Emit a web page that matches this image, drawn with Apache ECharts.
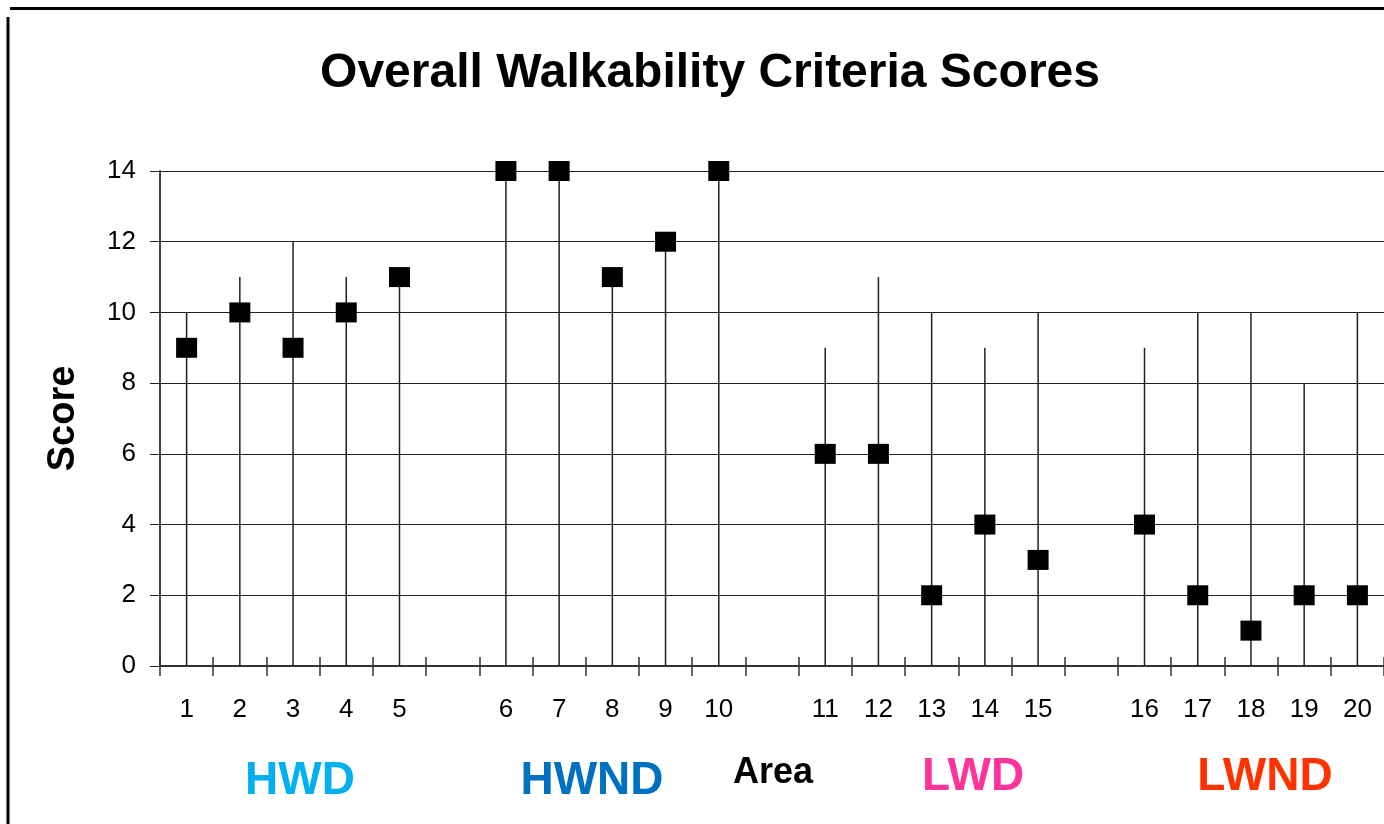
<!DOCTYPE html>
<html>
<head>
<meta charset="utf-8">
<script src="https://cdn.jsdelivr.net/npm/echarts@6/dist/echarts.min.js"></script>
<style>
    html, body { margin: 0; padding: 0; background: #fff; }
    #chart { width: 1384px; height: 824px; }
</style>
</head>
<body>
<div id="chart"></div>
<script>
const varFont = 'Liberation Sans';

// areas 1..20, with an empty slot between each group of five
const categories = ['1', '2', '3', '4', '5', '', '6', '7', '8', '9', '10', '', '11', '12', '13', '14', '15', '', '16', '17', '18', '19', '20'];
const scores = [9, 10, 9, 10, 11, '-', 14, 14, 11, 12, 14, '-', 6, 6, 2, 4, 3, '-', 4, 2, 1, 2, 2];
const highs = [10, 11, 12, 11, 11, '-', 14, 14, 11, 12, 14, '-', 9, 11, 10, 9, 10, '-', 9, 10, 10, 8, 10];
const yTicks = [0, 2, 4, 6, 8, 10, 12, 14];

const groupNames = ['HWD', 'HWND', 'LWD', 'LWND'];
const groupColors = ['#00B0F0', '#0070C0', '#FF3399', '#FF3300'];

//-----------------------------------------------------------------------------
var myChart = echarts.init(document.getElementById('chart'));

// labels under the axis (placed by hand like in the original sheet)
let groupX = [300, 592, 973, 1265];
let groupY = [781, 781, 777, 777];
let labelItems = [];
groupNames.forEach((name, i) => {
    labelItems.push({
        type: 'text',
        x: groupX[i],
        y: groupY[i],
        style: {
            text: name,
            fill: groupColors[i],
            font: 'bold 46px ' + varFont,
            textAlign: 'center',
            textVerticalAlign: 'middle'
        }
    });
});

var option = {
    animation: false,
    textStyle: {
        fontFamily: varFont,
    },
    title: {
        text: 'Overall Walkability Criteria Scores',
        left: 705,
        top: 45,
        textAlign: 'center',
        textStyle: {
            fontSize: 48,
            fontWeight: 'bold',
            color: '#000',
        },
    },
    grid: {
        left: 160,
        right: -3,
        top: 171,
        bottom: 158,
    },
    xAxis: [
        {
            type: 'category',
            data: categories,
            axisLine: {
                lineStyle: { color: '#333', width: 2 },
            },
            axisTick: {
                show: true,
                interval: 0,
                length: 10,
                lineStyle: { color: '#333', width: 1.5 },
            },
            axisLabel: {
                interval: 0,
                margin: 31,
                fontSize: 26,
                color: '#000',
            },
        },
        {
            type: 'category',
            data: categories,
            position: 'bottom',
            axisLine: { show: false },
            axisLabel: { show: false },
            axisTick: {
                show: true,
                inside: true,
                interval: 0,
                length: 9,
                lineStyle: { color: '#333', width: 1.5 },
            },
        }
    ],
    yAxis: {
        type: 'value',
        min: yTicks[0],
        max: yTicks[yTicks.length - 1],
        interval: 2,
        name: 'Score',
        nameLocation: 'middle',
        nameGap: 77,
        nameTextStyle: {
            fontSize: 38,
            fontWeight: 'bold',
            color: '#000',
        },
        axisLine: {
            show: true,
            lineStyle: { color: '#444', width: 2 },
        },
        axisTick: {
            show: true,
            length: 10,
            lineStyle: { color: '#222' },
        },
        axisLabel: {
            margin: 24,
            fontSize: 26,
            color: '#000',
        },
        splitLine: {
            lineStyle: { color: '#222', width: 1 },
        },
    },
    graphic: [
        {
            type: 'line',
            shape: { x1: 10, y1: 8.5, x2: 1384, y2: 8.5 },
            style: { stroke: '#000', lineWidth: 3 }
        },
        {
            type: 'line',
            shape: { x1: 8, y1: 17, x2: 8, y2: 824 },
            style: { stroke: '#000', lineWidth: 3 }
        },
        {
            type: 'text',
            x: 773,
            y: 773,
            style: {
                text: 'Area',
                fill: '#000',
                font: 'bold 36px ' + varFont,
                textAlign: 'center',
                textVerticalAlign: 'middle'
            }
        },
    ].concat(labelItems),
    series: [
        {
            name: 'High',
            type: 'bar',
            barWidth: 1.5,
            data: highs,
            itemStyle: {
                color: '#222',
            },
            silent: true,
        },
        {
            name: 'Score',
            type: 'scatter',
            data: scores,
            symbol: 'rect',
            symbolSize: [21, 20],
            itemStyle: {
                color: '#000',
                opacity: 1,
            },
            z: 5,
        }
    ],
};

myChart.setOption(option);
</script>
</body>
</html>
